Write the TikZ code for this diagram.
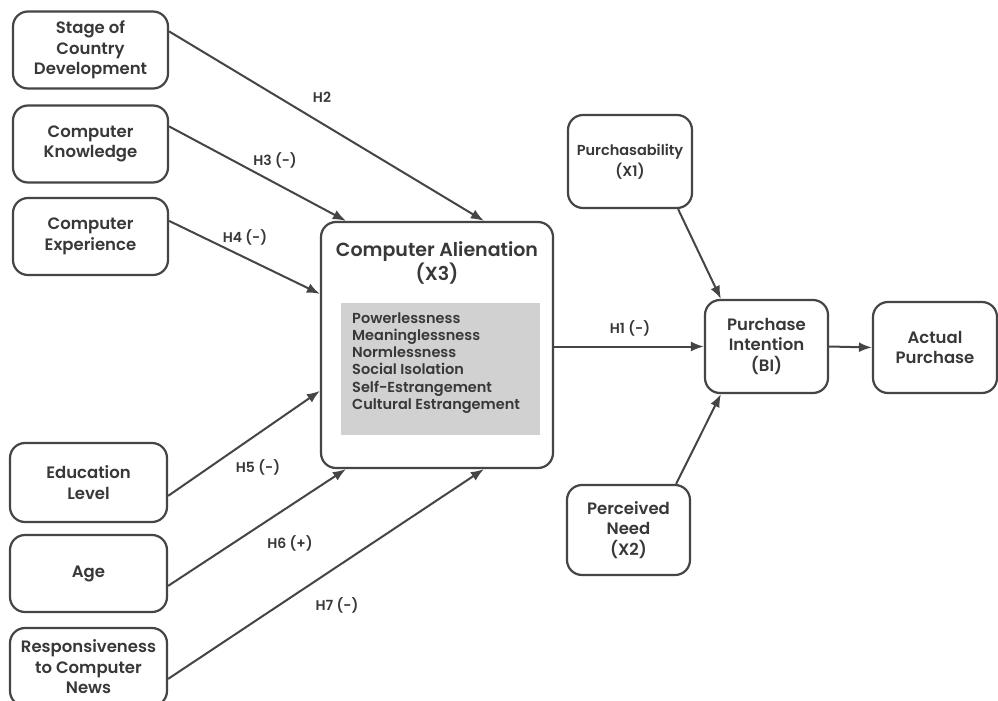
\documentclass[tikz,border=0pt]{standalone}
\usepackage{fontspec}
\setmainfont{Poppins}[UprightFont=* SemiBold, BoldFont=* Bold]
\usetikzlibrary{arrows.meta,calc}
\definecolor{ink}{HTML}{383838}
\definecolor{edge}{HTML}{454545}
\begin{document}
\begin{tikzpicture}[x=1pt,y=-1pt,
  box/.style={draw=edge,line width=2.2pt,rounded corners=15pt,align=center,inner sep=0pt,
    text=ink,font=\fontsize{16.5}{20.5}\selectfont},
  conn/.style={draw=edge,line width=2pt,-{Latex[length=13pt,width=10pt]}},
  hlab/.style={text=ink,font=\fontsize{14}{16}\selectfont}]
\useasboundingbox[fill=white] (0,0) rectangle (998,701);
% left boxes
\node[box,minimum width=155pt,minimum height=77pt] (stage) at (90.5,50) {Stage of\\Country\\Development};
\node[box,minimum width=155pt,minimum height=77pt] (know) at (90.5,144) {Computer\\Knowledge};
\node[box,minimum width=155pt,minimum height=77pt] (exper) at (90.5,236.5) {Computer\\Experience};
\node[box,minimum width=157pt,minimum height=79pt] (edu) at (88.5,482.5) {Education\\Level};
\node[box,minimum width=157pt,minimum height=77pt] (age) at (88.5,573.5) {Age};
\node[box,minimum width=157pt,minimum height=78pt] (resp) at (88.5,667) {Responsiveness\\to Computer\\News};
% central
\node[box,minimum width=232pt,minimum height=246pt] (ca) at (437,345) {};
\node[text=ink,align=center,font=\fontsize{19}{21}\selectfont] (catitle) at (437,263) {Computer Alienation\\(X3)};
\node[fill=gray!36,minimum width=199pt,minimum height=132pt,inner sep=0pt] (calist) at (440.5,369) {};
\node[text=ink,align=left,anchor=west,inner sep=0pt,font=\fontsize{14.5}{17.2}\selectfont] (caitems) at (352,363) {Powerlessness\\Meaninglessness\\Normlessness\\Social Isolation\\Self-Estrangement\\Cultural Estrangement};
% right
\node[box,minimum width=124pt,minimum height=93pt,font=\fontsize{14.5}{20.5}\selectfont] (purch) at (630,161.5) {Purchasability\\(X1)};
\node[box,minimum width=123pt,minimum height=93pt] (pi) at (766.5,346.5) {Purchase\\Intention\\(BI)};
\node[box,minimum width=124pt,minimum height=91pt] (ap) at (935,347.5) {Actual\\Purchase};
\node[box,minimum width=123pt,minimum height=90pt] (need) at (628.5,530) {Perceived\\Need\\(X2)};
% connectors
\draw[conn] ($(stage.north east)+(0,21)$) -- ($(ca.north west)+(164,0)$);
\draw[conn] ($(know.north east)+(0,22)$) -- ($(ca.north west)+(26,0)$);
\draw[conn] ($(exper.north east)+(0,24)$) -- ($(ca.north west)+(0,73)$);
\draw[conn] ($(edu.north east)+(0,54)$) -- ($(ca.north west)+(0,170)$);
\draw[conn] ($(age.north east)+(0,52)$) -- ($(ca.south west)+(26,0)$);
\draw[conn] ($(resp.north east)+(0,52)$) -- ($(ca.south west)+(164,0)$);
\draw[conn] (ca.east |- pi.west) -- (pi.west);
\draw[conn] ($(purch.south east)+(-15,0)$) -- ($(pi.north west)+(17,0)$);
\draw[conn] ($(need.north east)+(-15,0)$) -- ($(pi.south west)+(17,0)$);
\draw[conn] (pi.east) -- (ap.west);
% labels
\node[hlab] (h2) at (322,97) {H2};
\node[hlab] (h3) at (275,160) {H3 (-)};
\node[hlab] (h4) at (245,237) {H4 (-)};
\node[hlab] (h5) at (258,467) {H5 (-)};
\node[hlab] (h6) at (290,543) {H6 (+)};
\node[hlab] (h7) at (337,605) {H7 (-)};
\node[hlab] (h1) at (630,328) {H1 (-)};
\end{tikzpicture}
\end{document}
